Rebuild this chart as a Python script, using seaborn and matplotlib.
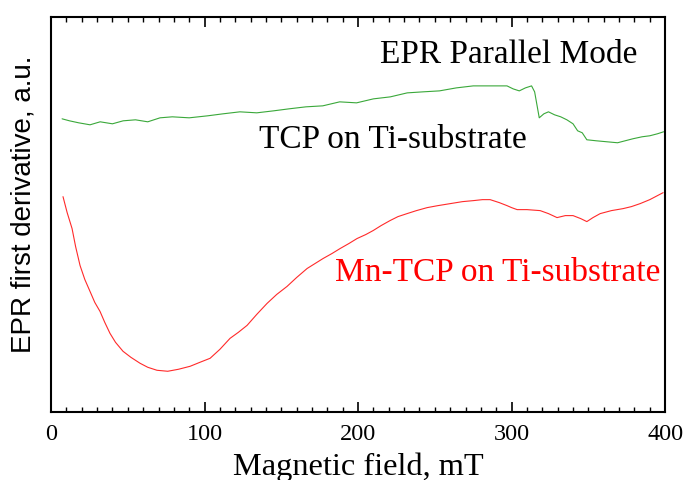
import matplotlib
matplotlib.use("Agg")
import matplotlib.pyplot as plt
from matplotlib.ticker import MultipleLocator
import seaborn as sns
import pandas as pd

# Data (arbitrary units)
tcp_field = [7.2, 12, 18, 25.4, 32, 40, 47, 55, 63, 71, 79, 90, 102, 112, 123, 134, 145,
             155, 166, 177, 188, 199, 210, 221, 232, 242, 253, 264, 275, 286, 297, 301,
             305, 309, 313, 315, 318, 321, 324, 328, 332, 336, 340, 343, 346, 349, 355,
             362, 369, 374, 379, 385, 390, 395, 399]
tcp_signal = [294, 292, 290, 288, 291, 289, 292, 293, 291, 295, 296, 295, 297, 299, 301, 300, 302,
              304, 306, 307, 311, 310, 314, 316, 320, 321, 322, 325, 327, 327, 327, 324,
              322, 325, 327, 321, 295, 299, 301, 298, 296, 293, 289, 282, 280, 273, 272,
              271, 270, 272, 274, 276, 277, 279, 281]

mn_field = [7.8, 10.5, 13.7, 16, 18.9, 22, 25.4, 28.5, 31.9, 35, 38.4, 42, 46.9, 52, 58, 63,
            69, 76, 83, 90.6, 97, 103.6, 110, 116.6, 122, 127.7, 134, 140.7, 147, 153.7, 160,
            166.8, 172, 177.2, 183, 188.3, 194, 199.3, 205, 209.8, 215, 220.8, 226, 231.9,
            238, 245, 252, 260, 268, 275, 281, 286, 292, 297, 300, 303.6, 310, 318.6, 324,
            329.6, 335, 340, 345, 349, 353, 357.7, 365, 372.6, 378, 383.7, 390, 398.7]
mn_signal = [216, 200, 184, 166, 147, 133, 121, 110, 101, 90, 79, 70, 61, 55, 49, 45,
             42, 41, 43, 46, 50, 54, 63, 74, 80, 87, 98, 109, 118, 126, 135,
             144, 149, 154, 159, 164, 169, 174, 178, 182, 187, 192, 196, 199,
             202, 205, 207, 209, 211, 212, 213, 213, 210, 207, 205, 203, 203, 202, 199,
             195, 197, 197, 194, 191, 195, 199, 202, 204, 206, 209, 213, 220]

tcp = pd.DataFrame({"field": tcp_field, "signal": tcp_signal})
mn = pd.DataFrame({"field": mn_field, "signal": mn_signal})

sns.set_style("ticks")
plt.rcParams["font.family"] = ["Liberation Serif", "DejaVu Serif"]
plt.rcParams["text.color"] = "black"
plt.rcParams["axes.labelcolor"] = "black"
plt.rcParams["xtick.color"] = "black"

fig = plt.figure(figsize=(6.85, 4.81), dpi=100)
ax = fig.add_axes([0.0745, 0.141, 0.8965, 0.8215])

sns.lineplot(data=tcp, x="field", y="signal", ax=ax, color="#3aa83a", linewidth=0.8)
sns.lineplot(data=mn, x="field", y="signal", ax=ax, color="#ff2a2a", linewidth=0.8)

ax.set_xlim(0, 400)
ax.set_ylim(0, 396)
ax.set_yticks([])
ax.xaxis.set_major_locator(MultipleLocator(100))
ax.xaxis.set_minor_locator(MultipleLocator(10))
ax.tick_params(axis="x", which="both", direction="in", top=True, bottom=True,
               labelsize=17.5, pad=8, colors="black")
ax.tick_params(axis="x", which="major", length=7, width=1.2)
ax.tick_params(axis="x", which="minor", length=3.5, width=1.0)
for lab in ax.get_xticklabels():
    lab.set_fontfamily("Liberation Serif")
for s in ax.spines.values():
    s.set_linewidth(1.5)
    s.set_color("black")

ax.set_xlabel("Magnetic field, mT", fontsize=23.3, family="Liberation Serif", labelpad=5,
              color="black")
ax.set_ylabel("EPR first derivative, a.u.", fontsize=20, family="Liberation Sans",
              color="black")
ax.yaxis.set_label_coords(-0.024, 0.528)

ax.text(298, 351, "EPR Parallel Mode", fontsize=24, ha="center", va="baseline",
        family="Liberation Serif", color="black")
ax.text(222.8, 266, "TCP on Ti-substrate", fontsize=24, ha="center", va="baseline",
        family="Liberation Serif", color="black")
ax.text(290.9, 132, "Mn-TCP on Ti-substrate", fontsize=24, ha="center", va="baseline",
        family="Liberation Serif", color="#ff0000")

fig.savefig("out.png", dpi=100)
